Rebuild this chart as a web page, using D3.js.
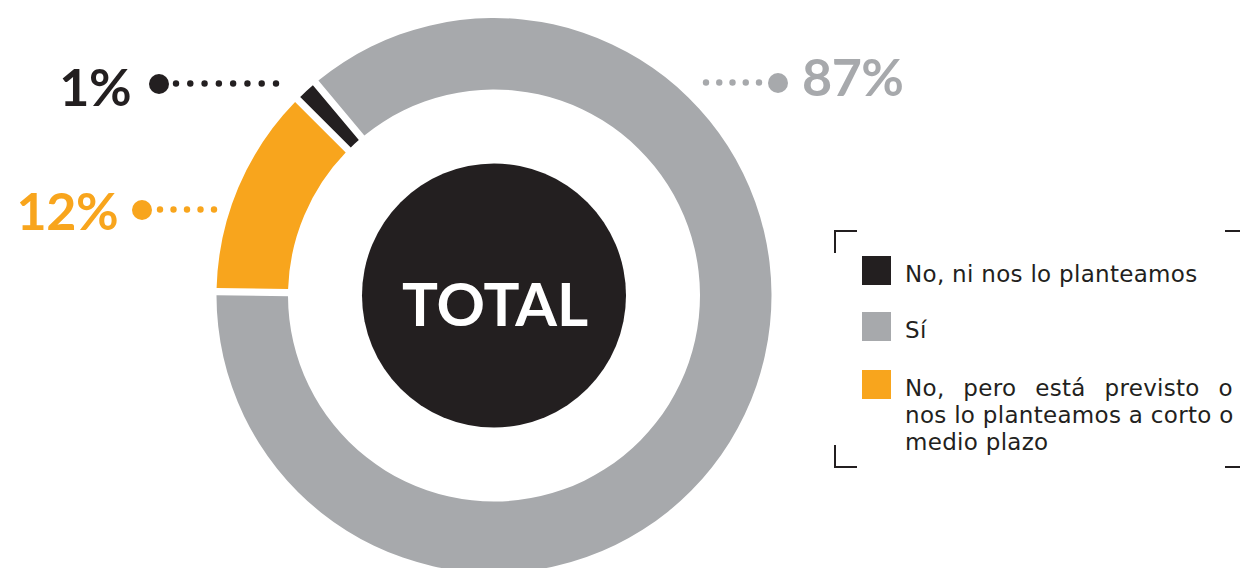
<!DOCTYPE html>
<html>
<head>
<meta charset="utf-8">
<script src="https://cdn.jsdelivr.net/npm/d3@7"></script>
<style>
  html, body { margin: 0; padding: 0; background: #fff; }
  svg { display: block; }
  text { font-family: Lato, "Open Sans", sans-serif; }
  text.legend-text { font-family: "DejaVu Sans", sans-serif; }
</style>
</head>
<body>
<svg id="chart" width="1240" height="568"></svg>
<script>
// Survey answers, in the order they run clockwise around the ring
const categories = ["Sí", "No, pero está previsto o nos lo planteamos a corto o medio plazo", "No, ni nos lo planteamos"];
const values = [87, 12, 1];
const valueLabels = ["87%", "12%", "1%"];
const colors = ["#a7a9ac", "#f8a51d", "#231f20"];

// Legend order and wrapped lines
const legendOrder = [2, 0, 1];
const legendLines = [
  ["No, ni nos lo planteamos"],
  ["Sí"],
  ["No, pero está previsto o", "nos lo planteamos a corto o", "medio plazo"]
];

const centerTitle = "TOTAL";

const svg = d3.select("#chart");
const cx = 494, cy = 295.5;
const outerR = 277.5, innerR = 206, discR = 132;
const rotation = 320 * Math.PI / 180;

const pie = d3.pie()
  .value(d => d)
  .sort(null)
  .startAngle(rotation)
  .endAngle(rotation + 2 * Math.PI)
  .padAngle(0.026);

const arc = d3.arc()
  .innerRadius(innerR)
  .outerRadius(outerR)
  .padRadius(outerR);

const ring = svg.append("g").attr("transform", `translate(${cx},${cy})`);

ring.selectAll("path.slice")
  .data(pie(values))
  .join("path")
  .attr("class", "slice")
  .attr("d", arc)
  .attr("fill", (d, i) => colors[i]);

// Centre disc with title
ring.append("circle").attr("r", discR).attr("fill", "#231f20");
ring.append("text")
  .attr("text-anchor", "middle")
  .attr("x", 1)
  .attr("y", 30)
  .attr("fill", "#fff")
  .attr("font-weight", 700)
  .attr("font-size", 60)
  .text(centerTitle);

// Value callouts: big dot, dotted leader, label
const callouts = [
  { i: 0, dot: [778, 83], leader: [706, 759], labelX: 802, anchor: "start", baseline: 96 },
  { i: 1, dot: [142, 210], leader: [160, 214], labelX: 118, anchor: "end", baseline: 230 },
  { i: 2, dot: [159, 84], leader: [176, 276], labelX: 131, anchor: "end", baseline: 106 }
];

const cg = svg.append("g");
callouts.forEach(c => {
  const col = colors[c.i];
  const y = c.dot[1];
  const [x0, x1] = c.leader;
  const n = Math.round((x1 - x0) / 14.3) + 1;
  const step = (x1 - x0) / (n - 1);
  cg.selectAll(null)
    .data(d3.range(n))
    .join("circle")
    .attr("cx", k => x0 + k * step)
    .attr("cy", y - 0.5)
    .attr("r", 3.2)
    .attr("fill", col);
  cg.append("circle").attr("cx", c.dot[0]).attr("cy", y).attr("r", 10).attr("fill", col);
  cg.append("text")
    .attr("x", c.labelX)
    .attr("y", c.baseline)
    .attr("text-anchor", c.anchor)
    .attr("font-weight", 700)
    .attr("font-size", 52)
    .attr("letter-spacing", -0.5)
    .attr("fill", col)
    .text(valueLabels[c.i]);
});

// Legend with corner brackets
const lg = svg.append("g");
const bx0 = 835, bx1 = 1240, by0 = 231, by1 = 467, arm = 22;
const bracket = [
  [[bx0, by0 + arm], [bx0, by0], [bx0 + arm, by0]],
  [[bx1 - 15, by0], [bx1, by0]],
  [[bx0, by1 - arm], [bx0, by1], [bx0 + arm, by1]],
  [[bx1 - 15, by1], [bx1, by1]]
];
lg.selectAll("path.bracket")
  .data(bracket)
  .join("path")
  .attr("class", "bracket")
  .attr("d", d3.line())
  .attr("fill", "none")
  .attr("stroke", "#231f20")
  .attr("stroke-width", 2);

const rowTop = [256, 312, 370];
const textX = 905, lineH = 27, blockW = 328;
const legendFont = { size: 23, spacing: 0.3 };

legendOrder.forEach((ci, r) => {
  const top = rowTop[r];
  lg.append("rect")
    .attr("x", 862).attr("y", top)
    .attr("width", 29).attr("height", 29)
    .attr("fill", colors[ci]);
  const lines = legendLines[r];
  const t = lg.append("text")
    .attr("class", "legend-text")
    .attr("x", textX)
    .attr("y", top + 26)
    .attr("font-size", legendFont.size)
    .attr("letter-spacing", legendFont.spacing)
    .attr("fill", "#231f20");
  lines.forEach((ln, k) => {
    const ts = t.append("tspan")
      .attr("x", textX)
      .attr("dy", k === 0 ? 0 : lineH)
      .text(ln);
    // justify every line of a wrapped paragraph except the last
    if (lines.length > 1 && k < lines.length - 1) {
      const natural = ts.node().getComputedTextLength();
      const gaps = (ln.match(/ /g) || []).length;
      if (gaps > 0 && natural < blockW) {
        ts.attr("word-spacing", (blockW - natural) / gaps);
      }
    }
  });
});
</script>
</body>
</html>
